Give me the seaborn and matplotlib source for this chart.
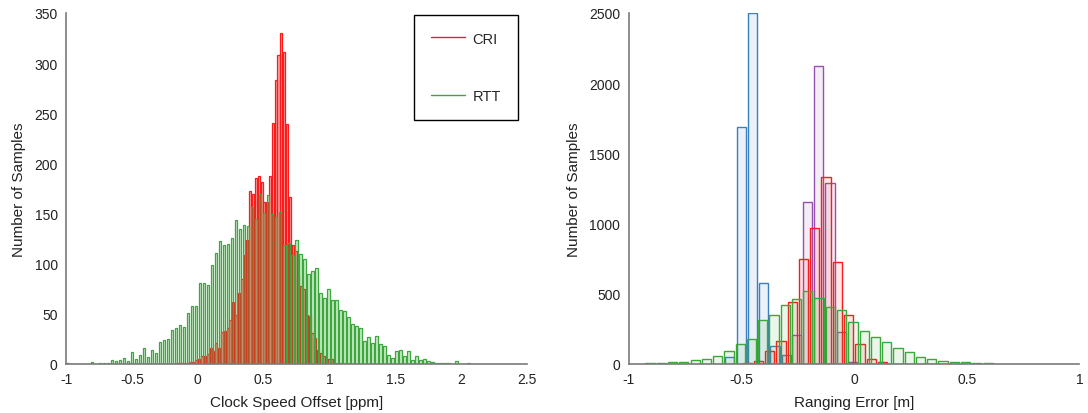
import numpy as np
import pandas as pd
import matplotlib
matplotlib.use("Agg")
import matplotlib.pyplot as plt
import seaborn as sns
from matplotlib.colors import to_rgba
from matplotlib.lines import Line2D

# ---------------- data ----------------
# Left panel: clock speed offset histograms [ppm]
rtt_clock_start = -0.986   # first bin centre
rtt_clock_width = 0.0304
rtt_clock_counts = [1, 0, 0, 0, 0, 0, 2, 0, 1, 1, 1,
                    4, 3, 4, 6, 3, 12, 5, 9, 16, 7,
                    14, 11, 22, 24, 25, 34, 36, 39, 37, 51,
                    58, 58, 81, 81, 79, 99, 111, 123, 119, 120,
                    126, 144, 135, 139, 138, 157, 145, 170, 151, 169,
                    150, 147, 152, 119, 121, 109, 124, 110, 105, 90,
                    93, 96, 71, 66, 75, 64, 64, 54, 53, 47,
                    40, 38, 36, 23, 27, 21, 28, 20, 18, 9,
                    6, 13, 14, 8, 13, 4, 8, 4, 5, 3,
                    2, 1, 1, 1, 1, 0, 3, 0, 0, 1]

cri_clock_start = -0.1605
cri_clock_width = 0.0215
cri_clock_counts = [1, 1, 1, 1, 1, 2, 2, 4, 5,
                    8, 8, 10, 16, 13, 21, 16, 32, 33, 36, 44, 62, 49, 71, 85,
                    109, 124, 172, 170, 185, 187, 181, 162, 162, 187, 240, 283, 308,
                    330,
                    311, 239, 167, 119, 113, 88, 78, 75, 49, 48, 31, 26, 14, 11, 8,
                    5, 5, 5, 1, 1, 1, 0, 1]

# Right panel: ranging error histograms [m]
blue_start, blue_width = -0.551, 0.0502
blue_counts = [48, 1685, 2500, 575, 126, 64]

purple_start, purple_width = -0.306, 0.0498
purple_counts = [8, 203, 1156, 2125, 1287, 226, 16]

red_start, red_width = -0.474, 0.05
red_counts = [7, 19, 90, 162, 440, 750, 971, 1329, 724, 349, 142, 36, 12]

green_start, green_width = -0.905, 0.05
green_counts = [5, 7, 12, 17, 28, 35, 59, 92, 140, 176,
                313, 347, 420, 463, 518, 468, 405, 381, 297, 232,
                190, 154, 117, 83, 47, 36, 24, 17, 12, 7, 5]

clock_xticks = [-1, -0.5, 0, 0.5, 1, 1.5, 2, 2.5]
clock_xticklabels = ["-1", "-0.5", "0", "0.5", "1", "1.5", "2", "2.5"]
clock_yticks = [0, 50, 100, 150, 200, 250, 300, 350]
range_xticks = [-1, -0.5, 0, 0.5, 1]
range_xticklabels = ["-1", "-0.5", "0", "0.5", "1"]
range_yticks = [0, 500, 1000, 1500, 2000, 2500]

C_RED = "#ff1a1a"
C_GREEN = "#3aa83a"
C_BLUE = "#3a7fc0"
C_PURPLE = "#9650b0"

# ---------------- figure ----------------
sns.set_theme(style="white")
plt.rcParams["font.family"] = ["Liberation Sans", "DejaVu Sans"]

fig = plt.figure(figsize=(10.88, 4.14), dpi=100)
axL = fig.add_axes([0.0607, 0.1184, 0.4237, 0.8478])
axR = fig.add_axes([0.5778, 0.1184, 0.4143, 0.8478])


def hist(ax, start, width, counts, color, alpha=0.35, lw=0.9, shrink=0.8):
    n = len(counts)
    centers = start + width * np.arange(n)
    edges = list(np.append(centers - width / 2, centers[-1] + width / 2))
    df = pd.DataFrame({"x": centers, "w": np.asarray(counts, dtype=float)})
    sns.histplot(data=df, x="x", weights="w", bins=edges, ax=ax, shrink=shrink,
                 facecolor=to_rgba(color, alpha), edgecolor=color, linewidth=lw)


hist(axL, cri_clock_start, cri_clock_width, cri_clock_counts, C_RED,
     alpha=0.38, lw=0.9, shrink=0.75)
hist(axL, rtt_clock_start, rtt_clock_width, rtt_clock_counts, C_GREEN,
     alpha=0.25, lw=0.9, shrink=0.7)

hist(axR, blue_start, blue_width, blue_counts, C_BLUE, alpha=0.1, lw=1.0, shrink=0.82)
hist(axR, purple_start, purple_width, purple_counts, C_PURPLE, alpha=0.1, lw=1.0, shrink=0.82)
hist(axR, red_start, red_width, red_counts, C_RED, alpha=0.1, lw=1.0, shrink=0.82)
hist(axR, green_start, green_width, green_counts, C_GREEN, alpha=0.1, lw=1.0, shrink=0.82)

for ax in (axL, axR):
    for s in ("top", "right"):
        ax.spines[s].set_visible(False)
    for s in ("left", "bottom"):
        ax.spines[s].set_color("#7a7a7a")
        ax.spines[s].set_linewidth(1.2)
    ax.tick_params(direction="in", length=4, width=0.8, color="#333333",
                   labelsize=10, labelcolor="#222222", pad=6)
    ax.set_ylabel("Number of Samples", fontsize=11, color="#222222", labelpad=6)

axL.set_xlim(-1, 2.5)
axL.set_ylim(0, 350)
axL.set_xticks(clock_xticks)
axL.set_xticklabels(clock_xticklabels)
axL.set_yticks(clock_yticks)
axL.set_xlabel("Clock Speed Offset [ppm]", fontsize=11, color="#222222", labelpad=6)

axR.set_xlim(-1, 1)
axR.set_ylim(0, 2500)
axR.set_xticks(range_xticks)
axR.set_xticklabels(range_xticklabels)
axR.set_yticks(range_yticks)
axR.set_xlabel("Ranging Error [m]", fontsize=11, color="#222222", labelpad=6)

handles = [Line2D([0], [0], color=C_RED, lw=1.0),
           Line2D([0], [0], color=C_GREEN, lw=1.0)]
leg = axL.legend(handles, ["CRI", "RTT"], loc="upper right",
                 bbox_to_anchor=(0.98, 0.995), frameon=True, fancybox=False,
                 framealpha=1, edgecolor="black", fontsize=10.5,
                 handlelength=2.3, labelspacing=3.0, borderpad=1.15,
                 handletextpad=0.55, borderaxespad=0)
leg.get_frame().set_linewidth(1.0)

fig.savefig("out.png", dpi=100)
